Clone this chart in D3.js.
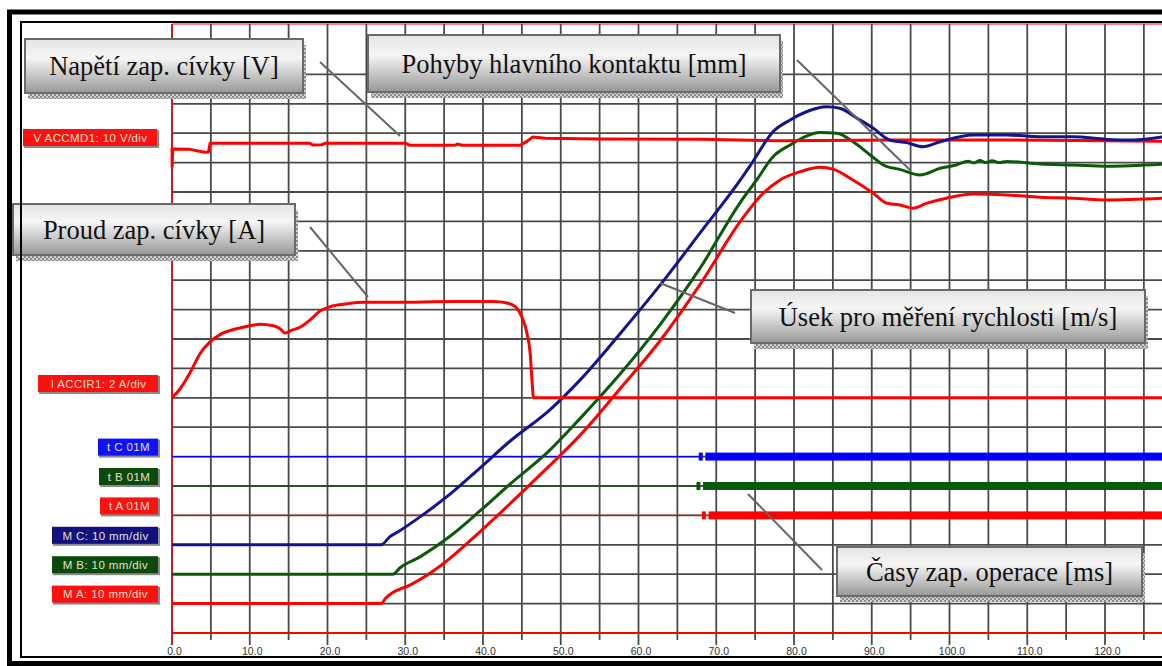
<!DOCTYPE html>
<html>
<head>
<meta charset="utf-8">
<script src="https://cdn.jsdelivr.net/npm/d3@7"></script>
<style>
  body { margin: 0; background: #fff; }
  svg { display: block; }
</style>
</head>
<body>
<svg id="chart" width="1162" height="666"></svg>
<script>
// ---- data (time in ms) ----
const xTickValues = [0, 10, 20, 30, 40, 50, 60, 70, 80, 90, 100, 110, 120];

// coil voltage [V], 10 V/div
const voltage = [
  [0, 164.9], [0.02, 158.6], [0.08, 164.6], [2.3, 164.5], [4.2, 163.5], [4.7, 163.6],
  [4.9, 166.6], [17.7, 166.6], [18.1, 166.0], [19.3, 166.1], [19.7, 166.6],
  [30.0, 166.6], [30.6, 165.9], [36.4, 165.9], [36.7, 166.3], [37.3, 165.9],
  [44.8, 165.9], [45.7, 167.3], [46.4, 168.7], [48.0, 168.3], [55.0, 168.0],
  [67.9, 167.9], [78.2, 167.4], [93.6, 167.7], [106.5, 167.7], [127.5, 167.3]
];

// coil current [A], 2 A/div
const current = [
  [0, 0], [1.03, 0.6], [2.32, 1.7], [3.6, 3.0], [4.89, 3.8], [6.18, 4.3], [8.33, 4.7],
  [10.04, 4.9], [11.33, 5.0], [13.04, 4.9], [13.9, 4.7], [14.54, 4.4], [15.4, 4.6],
  [16.47, 4.8], [17.76, 5.3], [19.05, 5.9], [20.33, 6.2], [22.5, 6.4], [24.6, 6.5],
  [28.48, 6.5], [36.2, 6.55], [41.35, 6.55], [43.08, 6.45], [44.14, 6.2], [45.0, 5.5],
  [45.65, 4.4], [46.07, 3.0], [46.3, 1.2], [46.5, 0], [127.5, 0]
];

// main contact travel [mm], 10 mm/div
const travelC = [
  [0, 0], [26.9, 0], [28.0, 2.7], [29.3, 4.8], [31.9, 9.5], [35.8, 17.3], [39.6, 26.1],
  [43.5, 35.3], [48.6, 45.9], [52.5, 56.1], [57.6, 71.7], [62.8, 88.4], [67.9, 106.0],
  [73.1, 124.1], [74.7, 130.3], [77.3, 140.5], [79.5, 144.5], [81.6, 147.3], [84.2, 149.0],
  [85.9, 148.5], [88.1, 145.1], [90.2, 141.7], [92.3, 137.7], [94.5, 136.8], [96.6, 135.4],
  [98.8, 137.1], [103.1, 139.4], [107.4, 139.4], [111.7, 138.8], [115.9, 138.8],
  [120.2, 137.9], [123.6, 137.7], [127.5, 138.8]
];
const travelB = [
  [0, 0], [28.4, 0], [29.3, 2.1], [31.9, 5.9], [35.8, 13.0], [39.6, 21.5], [43.5, 30.7],
  [48.6, 42.2], [52.5, 53.0], [57.6, 68.0], [62.8, 85.0], [67.9, 104.0], [73.1, 126.5],
  [75.2, 134.1], [77.3, 142.0], [79.5, 146.0], [81.6, 149.0], [83.3, 150.2], [85.5, 150.0],
  [87.6, 147.1], [89.8, 142.6], [91.5, 139.2], [93.6, 137.7], [96.2, 135.8], [98.8, 138.1],
  [100.9, 139.2], [102.4, 140.5], [103.1, 139.9], [103.9, 140.7], [104.7, 140.0],
  [105.5, 140.6], [106.3, 140.0], [107.4, 140.4], [111.7, 139.5], [115.9, 139.2],
  [120.2, 138.8], [127.5, 139.5]
];
const travelA = [
  [0, 0], [26.9, 0], [27.5, 1.9], [28.3, 3.6], [30.6, 6.3], [34.5, 12.8], [38.3, 21.3],
  [42.2, 30.8], [47.3, 43.7], [52.5, 57.3], [57.6, 73.0], [62.8, 89.5], [67.9, 108.5],
  [73.1, 130.0], [75.6, 138.4], [78.2, 144.1], [80.8, 146.9], [83.3, 148.4], [85.1, 147.7],
  [87.2, 144.7], [90.2, 139.6], [91.9, 136.2], [93.6, 135.6], [95.3, 134.5], [97.1, 136.2],
  [99.6, 137.9], [103.1, 139.3], [107.4, 139.0], [111.7, 138.2], [115.9, 137.9],
  [120.2, 137.3], [127.5, 137.9]
];

// closing times of the phases [ms]
const closeTimes = { C: 68.6, B: 68.3, A: 69.0 };

const channelLabels = ['V ACCMD1: 10 V/div', 'I ACCIR1: 2 A/div', 't C 01M', 't B 01M', 't A 01M',
  'M C: 10 mm/div', 'M B: 10 mm/div', 'M A: 10 mm/div'];

const calloutTexts = ['Napětí zap. cívky [V]', 'Pohyby hlavního kontaktu [mm]', 'Proud zap. cívky [A]',
  'Úsek pro měření rychlosti [m/s]', 'Časy zap. operace [ms]'];

// ---- layout ----
const svg = d3.select('#chart');
const tEnd = 127.6;
const x = d3.scaleLinear().domain([0, 10]).range([172, 249.75]);
const y = d3.scaleLinear().domain([0, 1]).range([633, 603.6]);   // y in divisions
const topY = 24;

const RED = '#ff0000', BLUE = '#0000ff', NAVY = '#141490', GREEN = '#0a5a0a', GRID = '#4a4a4a';

// gradient + hatched shadow for callouts
const defs = svg.append('defs');
const grad = defs.append('linearGradient').attr('id', 'boxGrad').attr('x1', 0).attr('y1', 0).attr('x2', 0).attr('y2', 1);
grad.append('stop').attr('offset', '0%').attr('stop-color', '#e4e4e4');
grad.append('stop').attr('offset', '35%').attr('stop-color', '#f6f6f6');
grad.append('stop').attr('offset', '100%').attr('stop-color', '#979797');
const pat = defs.append('pattern').attr('id', 'hatch').attr('width', 4).attr('height', 4).attr('patternUnits', 'userSpaceOnUse');
pat.append('rect').attr('width', 4).attr('height', 4).attr('fill', '#d0d0d0');
pat.append('rect').attr('width', 2).attr('height', 2).attr('fill', '#8c8c8c');
pat.append('rect').attr('x', 2).attr('y', 2).attr('width', 2).attr('height', 2).attr('fill', '#8c8c8c');

// grid
const grid = svg.append('g');
grid.selectAll('line.v')
  .data(d3.range(0, 126, 5))
  .enter().append('line')
  .attr('x1', d => x(d)).attr('x2', d => x(d))
  .attr('y1', topY).attr('y2', d => d % 10 === 0 ? 645 : 640)
  .attr('stroke', GRID).attr('stroke-width', 1.8);
grid.selectAll('line.h')
  .data(d3.range(1, 20))
  .enter().append('line')
  .attr('x1', x(0)).attr('x2', x(tEnd))
  .attr('y1', d => y(d)).attr('y2', d => y(d))
  .attr('stroke', GRID).attr('stroke-width', 1.8);

// plot border (red) and bottom reference
svg.append('line').attr('x1', x(0)).attr('x2', x(tEnd)).attr('y1', topY).attr('y2', topY)
  .attr('stroke', RED).attr('stroke-width', 1.2);
svg.append('line').attr('x1', x(0)).attr('x2', x(0)).attr('y1', topY).attr('y2', 645)
  .attr('stroke', RED).attr('stroke-width', 1.4);
svg.append('line').attr('x1', x(0)).attr('x2', x(tEnd)).attr('y1', y(0)).attr('y2', y(0))
  .attr('stroke', RED).attr('stroke-width', 2.2);

// x axis labels
const xAxis = d3.axisBottom(x).tickValues(xTickValues).tickSize(0).tickPadding(0).tickFormat(d3.format('.1f'));
svg.append('g')
  .attr('transform', 'translate(0,648)')
  .call(xAxis)
  .call(g => g.select('.domain').remove())
  .call(g => g.selectAll('text').attr('font-family', 'Liberation Sans, Arial, sans-serif')
    .attr('font-size', '10.5px').attr('fill', '#333').attr('dx', 2));

// timing lines
const timing = [
  { key: 'C', div: 6, color: BLUE },
  { key: 'B', div: 5, color: GREEN },
  { key: 'A', div: 4, color: RED }
];
timing.forEach(t => {
  const tc = closeTimes[t.key];
  svg.append('line').attr('x1', x(0)).attr('x2', x(tc - 0.7)).attr('y1', y(t.div)).attr('y2', y(t.div))
    .attr('stroke', t.color).attr('stroke-width', 1.2);
  svg.append('rect').attr('x', x(tc - 0.85)).attr('width', 4).attr('y', y(t.div) - 4).attr('height', 8)
    .attr('fill', t.color);
  svg.append('rect').attr('x', x(tc)).attr('width', x(tEnd) - x(tc)).attr('y', y(t.div) - 4).attr('height', 8)
    .attr('fill', t.color);
});

// traces
function trace(data, offset, perDiv, color, curve) {
  const line = d3.line()
    .x(d => x(d[0]))
    .y(d => y(offset + d[1] / perDiv))
    .curve(curve || d3.curveLinear);
  svg.append('path').datum(data)
    .attr('fill', 'none').attr('stroke', color).attr('stroke-width', 3)
    .attr('stroke-linejoin', 'round')
    .attr('d', line);
}
trace(travelA, 1, 10, RED, d3.curveMonotoneX);
trace(travelB, 2, 10, GREEN, d3.curveMonotoneX);
trace(voltage, 0, 10, RED);
trace(travelC, 3, 10, NAVY, d3.curveMonotoneX);
trace(current, 8, 2, RED, d3.curveMonotoneX);

// channel labels on the left
const labelBoxes = [
  { x0: 23, w: 135, yb: 147, fill: '#ff1010' },
  { x0: 38, w: 121, yb: 393, fill: '#ff1010' },
  { x0: 98, w: 61, yb: y(6), fill: '#1010ff' },
  { x0: 99, w: 60, yb: y(5), fill: '#0c4a0c' },
  { x0: 100, w: 59, yb: y(4), fill: '#ff1010' },
  { x0: 52, w: 107, yb: y(3), fill: '#10107e' },
  { x0: 52, w: 107, yb: y(2), fill: '#0c4a0c' },
  { x0: 52, w: 107, yb: y(1), fill: '#ff1010' }
];
const lab = svg.append('g').selectAll('g').data(channelLabels).enter().append('g')
  .attr('transform', (d, i) => `translate(${labelBoxes[i].x0},${labelBoxes[i].yb - 18})`);
lab.append('rect').attr('x', 1).attr('y', 1).attr('width', (d, i) => labelBoxes[i].w).attr('height', 18).attr('fill', '#8a8a8a');
lab.append('rect').attr('width', (d, i) => labelBoxes[i].w - 1).attr('height', 17).attr('fill', (d, i) => labelBoxes[i].fill);
lab.append('text').attr('x', (d, i) => labelBoxes[i].w / 2).attr('y', 12.8)
  .attr('text-anchor', 'middle').attr('font-family', 'Liberation Sans, Arial, sans-serif')
  .attr('font-size', '11.5px').attr('letter-spacing', '0.4px').attr('fill', '#e2e2c8')
  .text(d => d);

// callouts
const calloutBoxes = [
  { x0: 25, y0: 39, w: 278, h: 54, line: [320, 62, 400, 136] },
  { x0: 368, y0: 35, w: 412, h: 57, line: [797, 60, 910, 170] },
  { x0: 13, y0: 204, w: 282, h: 51, line: [310, 227, 368, 297] },
  { x0: 751, y0: 290, w: 394, h: 53, line: [660, 283, 735, 313] },
  { x0: 837, y0: 547, w: 305, h: 49, line: [748, 494, 822, 570] }
];
const co = svg.append('g').selectAll('g').data(calloutTexts).enter().append('g');
co.append('line')
  .attr('x1', (d, i) => calloutBoxes[i].line[0]).attr('y1', (d, i) => calloutBoxes[i].line[1])
  .attr('x2', (d, i) => calloutBoxes[i].line[2]).attr('y2', (d, i) => calloutBoxes[i].line[3])
  .attr('stroke', '#666').attr('stroke-width', 2);
co.append('rect')
  .attr('x', (d, i) => calloutBoxes[i].x0 + 3).attr('y', (d, i) => calloutBoxes[i].y0 + 6)
  .attr('width', (d, i) => calloutBoxes[i].w).attr('height', (d, i) => calloutBoxes[i].h)
  .attr('fill', 'url(#hatch)');
co.append('rect')
  .attr('x', (d, i) => calloutBoxes[i].x0).attr('y', (d, i) => calloutBoxes[i].y0)
  .attr('width', (d, i) => calloutBoxes[i].w).attr('height', (d, i) => calloutBoxes[i].h)
  .attr('fill', 'url(#boxGrad)').attr('stroke', '#6a6a6a').attr('stroke-width', 2);
co.append('text')
  .attr('x', (d, i) => calloutBoxes[i].x0 + calloutBoxes[i].w / 2)
  .attr('y', (d, i) => calloutBoxes[i].y0 + calloutBoxes[i].h / 2 + 9)
  .attr('text-anchor', 'middle')
  .attr('font-family', 'Liberation Serif, Times New Roman, serif')
  .attr('font-size', '26.5px').attr('fill', '#111')
  .text(d => d);

// frames
svg.append('rect').attr('x', 21).attr('y', 22).attr('width', 1200).attr('height', 635)
  .attr('fill', 'none').attr('stroke', '#000').attr('stroke-width', 2);
svg.append('rect').attr('x', 9.5).attr('y', 12).attr('width', 1200).attr('height', 651.5)
  .attr('fill', 'none').attr('stroke', '#000').attr('stroke-width', 5);
</script>
</body>
</html>
